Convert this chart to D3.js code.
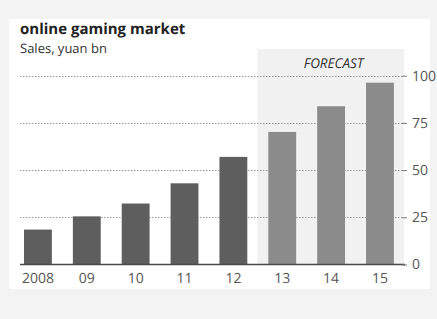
<!DOCTYPE html>
<html>
<head>
<meta charset="utf-8">
<script src="https://cdn.jsdelivr.net/npm/d3@7"></script>
<style>
  html, body { margin: 0; padding: 0; background: #f3f3f3; }
  svg { display: block; }
  text { text-rendering: geometricPrecision; }
</style>
</head>
<body>
<svg id="chart" width="437" height="319"></svg>
<script>
const years = ["2008", "09", "10", "11", "12", "13", "14", "15"];
const sales = [18.5, 25.5, 32.3, 43, 57, 70.2, 83.8, 96.3];
const forecastFlags = [false, false, false, false, false, true, true, true];
const yTicks = [0, 25, 50, 75, 100];
const title = "online gaming market";
const subtitle = "Sales, yuan bn";
const forecastLabel = "FORECAST";

const svg = d3.select("#chart");
const font = "'Open Sans', 'DejaVu Sans', sans-serif";

// panel
svg.append("rect").attr("x", 9).attr("y", 19).attr("width", 421).attr("height", 270).attr("fill", "#ffffff");

const x = d3.scaleBand().domain(years).range([13.5, 404.4]).paddingInner(0.43).paddingOuter(0.215);
const y = d3.scaleLinear().domain([0, 100]).range([264.5, 75.7]);

// forecast shade
const firstF = years[forecastFlags.indexOf(true)];
const fx0 = x(firstF) - x.step() * x.paddingInner() / 2 - 0.5;
svg.append("rect")
  .attr("x", fx0).attr("y", 49)
  .attr("width", 404 - fx0).attr("height", y(0) - 49)
  .attr("fill", "#f1f1f1");

svg.append("text").attr("x", (fx0 + 404) / 2 + 3).attr("y", 68)
  .attr("text-anchor", "middle").attr("font-family", font)
  .attr("font-style", "italic").attr("font-size", 13.5).attr("fill", "#333")
  .text(forecastLabel);

// gridlines
svg.append("g").selectAll("line").data(yTicks.filter(d => d > 0)).join("line")
  .attr("x1", 20).attr("x2", 402)
  .attr("y1", d => Math.round(y(d)) + 0.5).attr("y2", d => Math.round(y(d)) + 0.5)
  .attr("stroke", "#999").attr("stroke-width", 1).attr("stroke-dasharray", "1.5,1.5");

// bars
svg.append("g").selectAll("rect").data(years).join("rect")
  .attr("x", d => x(d)).attr("width", x.bandwidth())
  .attr("y", (d, i) => y(sales[i])).attr("height", (d, i) => y(0) - y(sales[i]))
  .attr("fill", (d, i) => forecastFlags[i] ? "#8b8b8b" : "#5e5e5e");

// baseline
svg.append("line").attr("x1", 20).attr("x2", 405)
  .attr("y1", y(0)).attr("y2", y(0)).attr("stroke", "#4a4a4a").attr("stroke-width", 1.5);

// right axis
const yAxis = d3.axisRight(y).tickValues(yTicks).tickSize(5).tickPadding(5).tickFormat(d3.format("d"));
const ya = svg.append("g").attr("transform", "translate(402,0)").call(yAxis);
ya.select(".domain").remove();
ya.selectAll(".tick line").attr("stroke", "#777");
ya.selectAll(".tick text").attr("font-family", font).attr("font-size", 14).attr("fill", "#555");

// bottom axis
const xAxis = d3.axisBottom(x).tickSize(0).tickPadding(9);
const xa = svg.append("g").attr("transform", `translate(0,${y(0)})`).call(xAxis);
xa.select(".domain").remove();
xa.selectAll(".tick text").attr("font-family", font).attr("font-size", 14).attr("fill", "#555");

// titles
svg.append("text").attr("x", 20).attr("y", 34).attr("font-family", font)
  .attr("font-weight", "bold").attr("font-size", 15).attr("fill", "#222").text(title);
svg.append("text").attr("x", 20).attr("y", 53).attr("font-family", font)
  .attr("font-size", 13).attr("fill", "#333").text(subtitle);
</script>
</body>
</html>
